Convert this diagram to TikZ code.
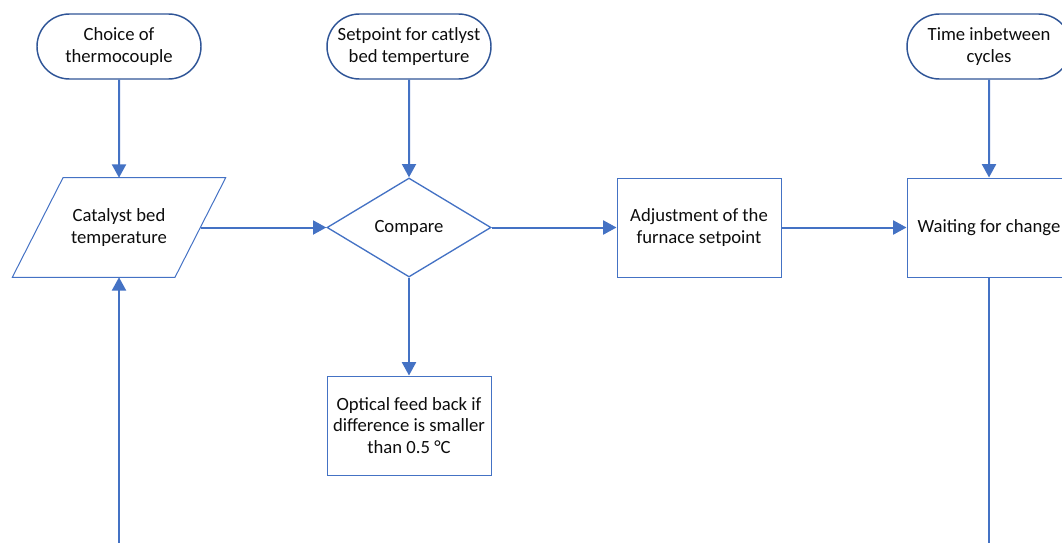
\documentclass[tikz,border=0pt]{standalone}
\usepackage{fontspec}
\setmainfont{Carlito}
\usetikzlibrary{shapes.misc,shapes.geometric,arrows.meta}
\definecolor{lineblue}{HTML}{4472C4}
\definecolor{darkblue}{HTML}{2F5597}
\definecolor{txt}{HTML}{0D0D0D}
\tikzset{
  base/.style={font=\fontsize{14}{16.3}\selectfont, text=txt, align=center, inner sep=0pt},
  terminal/.style={base, rounded rectangle, draw=darkblue, line width=1.1pt, minimum width=123pt, minimum height=48.75pt},
  procbox/.style={base, rectangle, draw=lineblue, line width=0.75pt, minimum width=123pt, minimum height=74.25pt},
  decision/.style={base, diamond, draw=lineblue, line width=1pt, minimum width=123pt, minimum height=74.25pt, aspect=1.66},
  iobox/.style={base, rectangle, minimum width=123pt, minimum height=74.25pt},
  flow/.style={draw=lineblue, line width=1.5pt, -{Triangle[width=10.5pt,length=10pt]}},
  plainflow/.style={draw=lineblue, line width=1.5pt},
}
\begin{document}
\begin{tikzpicture}[x=0.75pt,y=-0.75pt]
\useasboundingbox (0,0) rectangle (1062,542);
\clip (0,0) rectangle (1062,542);
% nodes
\node[terminal] (t1) at (119,46.5) {Choice of\\thermocouple};
\node[terminal] (t2) at (409,46.5) {Setpoint for catlyst\\bed temperture};
\node[terminal] (t3) at (989,46.5) {Time inbetween\\cycles};
\node[iobox] (par) at (119,227.5) {Catalyst bed\\temperature};
\draw[lineblue, line width=0.75pt]
  ([xshift=-42pt]par.north) -- ([xshift=80pt]par.north) -- ([xshift=42pt]par.south)
  -- ([xshift=-80pt]par.south) -- cycle;
\node[decision] (cmp) at (409,227.5) {Compare};
\node[procbox] (adj) at (699,227.5) {Adjustment of the\\furnace setpoint};
\node[procbox] (wait) at (989,227.5) {Waiting for change};
\node[procbox] (opt) at (409,425.5) {Optical feed back if\\difference is smaller\\than 0.5 °C};
\coordinate (b1) at (119,545);
\coordinate (b2) at (989,545);
% connectors
\draw[flow] (t1) -- (par.north);
\draw[flow] (t2) -- (cmp.north);
\draw[flow] (t3) -- (wait.north);
\draw[flow] (par.east) -- (cmp.west);
\draw[flow] (cmp.east) -- (adj.west);
\draw[flow] (adj.east) -- (wait.west);
\draw[flow] (cmp.south) -- (opt.north);
\draw[flow] (b1) -- (par.south);
\draw[plainflow] (wait.south) -- (b2);
\end{tikzpicture}
\end{document}
